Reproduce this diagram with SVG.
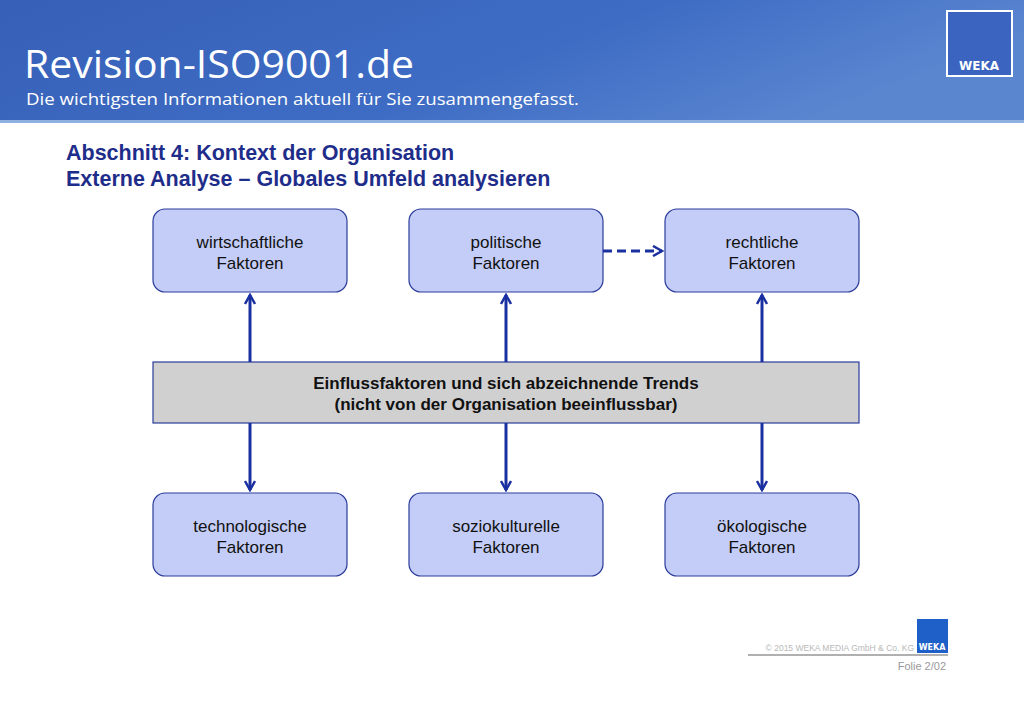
<svg xmlns="http://www.w3.org/2000/svg" width="1024" height="724" viewBox="0 0 1024 724">
<defs>
<linearGradient id="hdr" x1="0" y1="0" x2="1" y2="0.3"><stop offset="0" stop-color="#3760b8"/><stop offset="0.6" stop-color="#3e6cc4"/><stop offset="1" stop-color="#5a86d0"/></linearGradient>
<marker id="ah" viewBox="0 0 12 12" refX="10" refY="6" markerWidth="12" markerHeight="12" markerUnits="userSpaceOnUse" orient="auto"><path d="M1,1 L10,6 L1,11" fill="none" stroke="#1a2fa0" stroke-width="2.5"/></marker>
<style>
.box{fill:#c4cdf7;stroke:#2a3c9a;stroke-width:1.2}
.t{font-family:"Liberation Sans",Arial,sans-serif;font-size:17px;fill:#111;text-anchor:middle}
.c{stroke:#1a2fa0;stroke-width:3;fill:none;marker-end:url(#ah)}
</style>
</defs>
<rect width="1024" height="724" fill="#fff"/>
<rect width="1024" height="122" fill="url(#hdr)"/>
<rect y="120" width="1024" height="3" fill="#8fb0e0"/>
<text x="24" y="78" font-family="Open Sans,sans-serif" font-size="38" fill="#fff" textLength="390" lengthAdjust="spacingAndGlyphs">Revision-ISO9001.de</text>
<text x="26" y="105" font-family="Open Sans,sans-serif" font-size="17" fill="#fff" textLength="553" lengthAdjust="spacingAndGlyphs">Die wichtigsten Informationen aktuell für Sie zusammengefasst.</text>
<rect x="947" y="11" width="65" height="65" fill="#3a64c0" stroke="#fff" stroke-width="2"/>
<text x="979" y="70" font-family="DejaVu Sans,sans-serif" font-weight="bold" font-size="12" fill="#fff" text-anchor="middle">WEKA</text>
<text x="66" y="160" font-family="Liberation Sans,Arial,sans-serif" font-weight="bold" font-size="21.5" fill="#1f2d8a">Abschnitt 4: Kontext der Organisation</text>
<text x="66" y="186" font-family="Liberation Sans,Arial,sans-serif" font-weight="bold" font-size="21.5" fill="#1f2d8a">Externe Analyse – Globales Umfeld analysieren</text>
<g id="n1"><rect class="box" x="153" y="209" width="194" height="83" rx="12"/><text class="t" x="250" y="248">wirtschaftliche</text><text class="t" x="250" y="269">Faktoren</text></g>
<g id="n2"><rect class="box" x="409" y="209" width="194" height="83" rx="12"/><text class="t" x="506" y="248">politische</text><text class="t" x="506" y="269">Faktoren</text></g>
<g id="n3"><rect class="box" x="665" y="209" width="194" height="83" rx="12"/><text class="t" x="762" y="248">rechtliche</text><text class="t" x="762" y="269">Faktoren</text></g>
<g id="n4"><rect class="box" x="153" y="493" width="194" height="83" rx="12"/><text class="t" x="250" y="532">technologische</text><text class="t" x="250" y="553">Faktoren</text></g>
<g id="n5"><rect class="box" x="409" y="493" width="194" height="83" rx="12"/><text class="t" x="506" y="532">soziokulturelle</text><text class="t" x="506" y="553">Faktoren</text></g>
<g id="n6"><rect class="box" x="665" y="493" width="194" height="83" rx="12"/><text class="t" x="762" y="532">ökologische</text><text class="t" x="762" y="553">Faktoren</text></g>
<g id="center"><rect x="153" y="362" width="706" height="61" fill="#d0d0d0" stroke="#2a3c9a" stroke-width="1.2"/><text class="t" x="506" y="389" font-weight="bold">Einflussfaktoren und sich abzeichnende Trends</text><text class="t" x="506" y="410" font-weight="bold">(nicht von der Organisation beeinflussbar)</text></g>
<g id="connectors">
<path class="c" d="M250,362 V295"/>
<path class="c" d="M506,362 V295"/>
<path class="c" d="M762,362 V295"/>
<path class="c" d="M250,423 V490"/>
<path class="c" d="M506,423 V490"/>
<path class="c" d="M762,423 V490"/>
<path class="c" d="M603,251 H662" stroke-dasharray="9,5"/>
</g>
<rect x="917" y="619" width="31" height="34" fill="#1f5fc8"/>
<text x="932" y="650" font-family="DejaVu Sans,sans-serif" font-weight="bold" font-size="8" fill="#fff" text-anchor="middle">WEKA</text>
<text x="914" y="651" font-family="Liberation Sans,Arial,sans-serif" font-size="8.5" fill="#b8b8b8" text-anchor="end">© 2015 WEKA MEDIA GmbH &amp; Co. KG</text>
<rect x="748" y="654" width="200" height="2" fill="#b0b0b0"/>
<text x="946" y="670" font-family="Liberation Sans,Arial,sans-serif" font-size="11" fill="#999" text-anchor="end">Folie  2/02</text>
</svg>
